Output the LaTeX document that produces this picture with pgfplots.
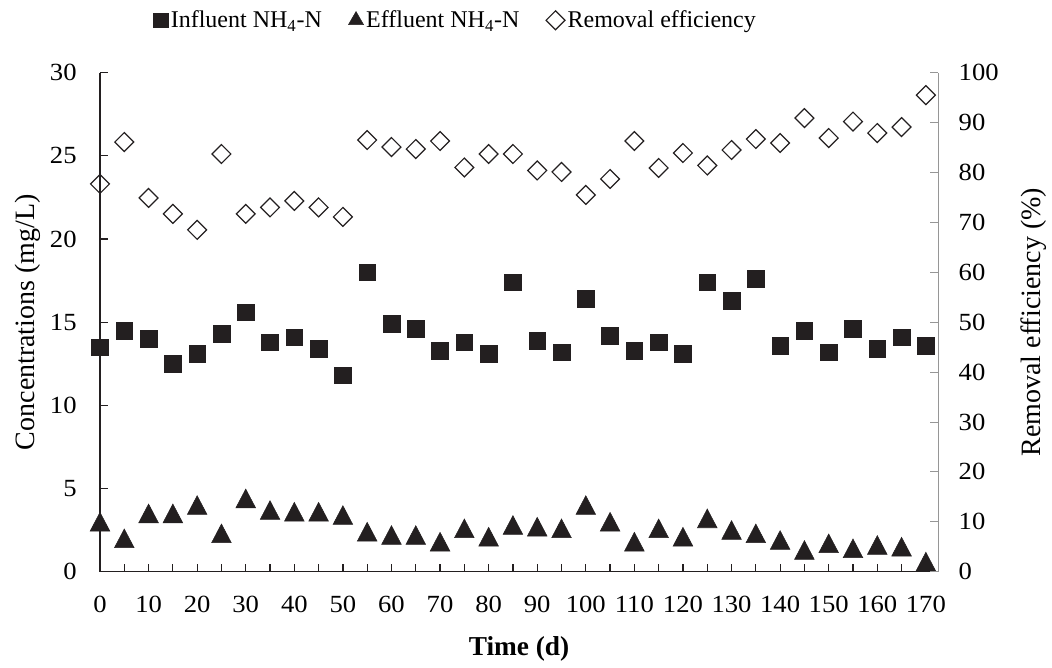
\documentclass[border=0pt]{standalone}
\usepackage{fontspec}
\setmainfont{Liberation Serif}
\newfontfamily\tickfont{Liberation Serif}[FakeStretch=1.08]
\usepackage{pgfplots}
\usepackage{pgfplotstable}
\pgfplotsset{compat=1.18}
\definecolor{ink}{RGB}{35,31,32}
\definecolor{raxis}{RGB}{150,150,150}

% day, influent NH4-N, effluent NH4-N (mg/L), removal efficiency (%)
\pgfplotstableread{
day inf eff rem
0   13.5 3.0 77.7
5   14.5 2.0 86.1
10  14.0 3.5 74.9
15  12.5 3.5 71.7
20  13.1 4.0 68.5
25  14.3 2.3 83.7
30  15.6 4.4 71.7
35  13.8 3.7 73.0
40  14.1 3.6 74.3
45  13.4 3.6 73.0
50  11.8 3.4 71.1
55  18.0 2.4 86.5
60  14.9 2.2 85.1
65  14.6 2.2 84.7
70  13.3 1.8 86.3
75  13.8 2.6 81.0
80  13.1 2.1 83.7
85  17.4 2.8 83.7
90  13.9 2.7 80.4
95  13.2 2.6 80.1
100 16.4 4.0 75.5
105 14.2 3.0 78.7
110 13.3 1.8 86.3
115 13.8 2.6 80.9
120 13.1 2.1 83.9
125 17.4 3.2 81.4
130 16.3 2.5 84.5
135 17.6 2.3 86.7
140 13.6 1.9 85.9
145 14.5 1.3 90.9
150 13.2 1.7 86.9
155 14.6 1.4 90.2
160 13.4 1.6 87.9
165 14.1 1.5 89.1
170 13.6 0.6 95.5
}\data

\pgfplotsset{
  common/.style={scale only axis, width=628.5pt, height=374.25pt,
    xmin=0, xmax=172.5,
    /pgf/number format/assume math mode=true,
    tick align=inside, major tick length=6pt, minor tick length=6pt,
    tick style={line width=0.9pt},
    tick label style={font=\tickfont\fontsize{18.5}{21}\selectfont},
    label style={font=\fontsize{21}{24}\selectfont},
  },
  sq/.style={only marks, mark=square*, mark size=6.25pt, color=ink},
  tri/.style={only marks, mark=triangle*, mark size=8.5pt, color=ink,
    mark options={yshift=-2.3pt, yscale=1.1}},
  dia/.style={only marks, mark=square, mark size=5pt, color=ink,
    mark options={rotate=45, line width=0.9pt, fill=white}},
}

\begin{document}
\begin{tikzpicture}
\begin{axis}[common, name=ax,
  ymin=0, ymax=30,
  axis y line*=left, axis x line*=bottom,
  axis line style={color=ink, line width=1.1pt},
  tick style={color=ink},
  xtick={0,10,...,170}, minor xtick={5,15,...,165},
  ytick={0,5,...,30},
  xticklabel style={yshift=-15pt},
  yticklabel style={xshift=-14pt},
  ylabel={Concentrations (mg/L)},
  xlabel={\textbf{Time (d)}},
  xlabel style={yshift=-11pt, font=\fontsize{20.5}{24}\selectfont},
]
\addplot[sq] table[x=day, y=inf] {\data};
\addplot[tri] table[x=day, y=eff] {\data};
\end{axis}
\begin{axis}[common,
  ymin=0, ymax=100,
  axis y line*=right, axis x line=none,
  axis line style={color=raxis, line width=0.7pt},
  tick style={color=raxis, line width=0.7pt},
  ytick={0,10,...,100},
  yticklabel style={xshift=12pt},
  ylabel={Removal efficiency (\%)},
  ylabel style={yshift=-10pt},
  legend style={draw=none, fill=none, inner sep=0pt,
    at={(0.0635,1.105)}, anchor=west,
    legend columns=3, font=\fontsize{18}{21}\selectfont,
    /tikz/every even column/.append style={column sep=18pt}},
  legend cell align=left,
]
\addlegendimage{only marks, mark=square*, mark size=5.5pt, color=ink}
\addlegendentry{Influent NH\textsubscript{4}-N}
\addlegendimage{only marks, mark=triangle*, mark size=6.5pt, color=ink}
\addlegendentry{Effluent NH\textsubscript{4}-N}
\addplot[dia] table[x=day, y=rem] {\data};
\addlegendentry{Removal efficiency}
\end{axis}
\path (ax.south west) ++(-75pt,-72.2pt) coordinate (bl);
\path (ax.north east) ++(85.5pt,54.5pt) coordinate (tr);
\path (bl) rectangle (tr);
\end{tikzpicture}
\end{document}
